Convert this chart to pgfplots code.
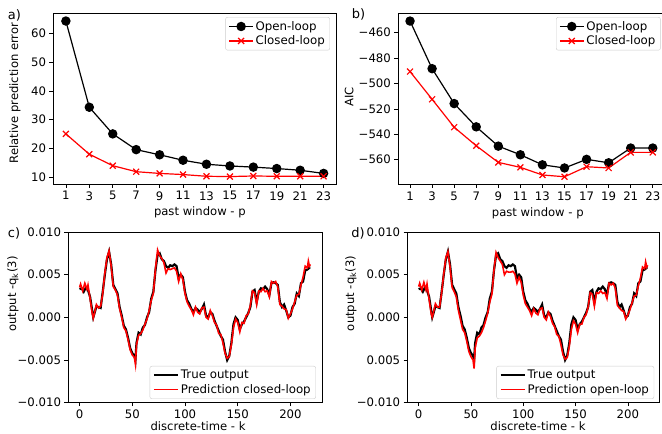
\documentclass[border=0pt]{standalone}
\usepackage{pgfplots}
\pgfplotsset{compat=1.18}
\usepackage{pgfplotstable}
\usepackage{fontspec}
\setmainfont{DejaVu Sans}
\newcommand{\fs}{\fontsize{11.7}{14}\selectfont}
\newcommand{\fl}{\fontsize{11.6}{14}\selectfont}
\newcommand{\fg}{\fontsize{11.8}{14}\selectfont}

\pgfplotstableread{
k y
0 0.0033
2 0.0034
4 0.0030
6 0.0035
8 0.0032
10 0.0024
12 0.0008
13 0.0000
14 0.0004
16 0.0013
18 0.0012
20 0.0011
22 0.0030
24 0.0050
26 0.0068
28 0.0077
30 0.0062
32 0.0038
34 0.0033
36 0.0028
38 0.0012
40 0.0002
42 -0.0010
44 -0.0014
46 -0.0024
48 -0.0036
50 -0.0042
52 -0.0045
53 -0.0050
54 -0.0030
56 -0.0018
58 -0.0020
60 -0.0012
62 -0.0009
64 0.0000
66 0.0006
68 0.0022
70 0.0030
72 0.0055
74 0.0073
76 0.0075
78 0.0068
80 0.0066
82 0.0060
84 0.0058
86 0.0061
88 0.0060
90 0.0062
92 0.0060
94 0.0046
96 0.0050
98 0.0047
100 0.0030
102 0.0020
104 0.0016
106 0.0010
108 0.0006
110 0.0011
112 0.0009
114 0.0006
116 0.0010
118 0.0015
120 0.0002
122 0.0000
124 0.0006
126 0.0004
128 -0.0004
130 -0.0010
132 -0.0016
134 -0.0022
136 -0.0026
138 -0.0040
140 -0.0050
142 -0.0045
144 -0.0030
146 -0.0008
148 0.0000
150 -0.0003
152 -0.0014
154 -0.0008
156 -0.0005
158 0.0000
160 0.0005
162 0.0012
164 0.0030
166 0.0032
168 0.0018
170 0.0030
172 0.0034
174 0.0033
176 0.0036
178 0.0033
180 0.0026
182 0.0040
184 0.0041
186 0.0040
188 0.0038
190 0.0018
192 0.0012
194 0.0015
196 0.0008
198 0.0000
200 0.0002
202 0.0012
204 0.0016
206 0.0028
208 0.0025
210 0.0040
212 0.0042
214 0.0055
216 0.0056
218 0.0058
219 0.0058
}\truedata

\pgfplotstableread{
k y
0 0.0035
1 0.0039
3 0.0031
5 0.0040
7 0.0033
8 0.0038
10 0.0022
12 0.0005
13 -0.0001
14 0.0004
16 0.0015
18 0.0011
20 0.0013
22 0.0028
24 0.0052
26 0.0070
28 0.0078
30 0.0060
32 0.0036
34 0.0032
36 0.0026
38 0.0010
40 0.0000
42 -0.0012
44 -0.0016
46 -0.0026
48 -0.0038
50 -0.0044
52 -0.0047
53 -0.0055
54 -0.0032
56 -0.0021
58 -0.0019
60 -0.0015
62 -0.0008
64 -0.0002
66 0.0008
68 0.0020
70 0.0028
72 0.0057
74 0.0079
76 0.0072
78 0.0069
80 0.0064
82 0.0052
84 0.0057
86 0.0056
88 0.0057
90 0.0058
92 0.0054
94 0.0042
96 0.0051
98 0.0044
100 0.0028
102 0.0018
104 0.0013
106 0.0009
108 0.0003
110 0.0012
112 0.0006
114 0.0004
116 0.0011
118 0.0012
120 0.0000
122 -0.0002
124 0.0008
126 0.0002
128 -0.0006
130 -0.0009
132 -0.0019
134 -0.0020
136 -0.0030
138 -0.0042
140 -0.0048
142 -0.0046
144 -0.0032
146 -0.0012
148 -0.0002
150 -0.0006
152 -0.0017
154 -0.0006
156 -0.0007
158 0.0002
160 0.0004
162 0.0014
164 0.0031
166 0.0029
168 0.0015
170 0.0031
172 0.0030
174 0.0034
176 0.0030
178 0.0031
180 0.0024
182 0.0042
184 0.0040
186 0.0042
188 0.0036
190 0.0015
192 0.0013
194 0.0010
196 0.0009
198 -0.0001
200 0.0004
202 0.0010
204 0.0018
206 0.0026
208 0.0027
210 0.0038
212 0.0047
214 0.0060
216 0.0058
217 0.0066
218 0.0060
219 0.0062
}\closeddata

\pgfplotstableread{
k y
0 0.0036
1 0.0040
3 0.0032
5 0.0041
7 0.0032
8 0.0039
10 0.0021
12 0.0004
13 0.0000
14 0.0005
16 0.0016
18 0.0012
20 0.0012
22 0.0029
24 0.0051
26 0.0070
28 0.0077
30 0.0059
32 0.0035
34 0.0030
36 0.0024
38 0.0008
40 -0.0003
42 -0.0014
44 -0.0018
46 -0.0028
48 -0.0040
50 -0.0046
52 -0.0050
53 -0.0060
54 -0.0036
56 -0.0024
58 -0.0022
60 -0.0018
62 -0.0012
64 -0.0004
66 0.0005
68 0.0018
70 0.0027
72 0.0055
74 0.0076
76 0.0070
78 0.0066
80 0.0062
82 0.0050
84 0.0054
86 0.0053
88 0.0053
90 0.0054
92 0.0051
94 0.0040
96 0.0047
98 0.0041
100 0.0026
102 0.0016
104 0.0012
106 0.0008
108 0.0002
110 0.0010
112 0.0005
114 0.0003
116 0.0010
118 0.0011
120 0.0000
122 -0.0003
124 0.0006
126 0.0001
128 -0.0007
130 -0.0011
132 -0.0020
134 -0.0022
136 -0.0032
138 -0.0044
140 -0.0049
142 -0.0047
144 -0.0034
146 -0.0014
148 -0.0004
150 -0.0008
152 -0.0018
154 -0.0008
156 -0.0008
158 0.0000
160 0.0003
162 0.0012
164 0.0029
166 0.0027
168 0.0013
170 0.0029
172 0.0028
174 0.0031
176 0.0028
178 0.0029
180 0.0022
182 0.0040
184 0.0038
186 0.0040
188 0.0034
190 0.0014
192 0.0011
194 0.0008
196 0.0007
198 -0.0002
200 0.0003
202 0.0009
204 0.0017
206 0.0025
208 0.0026
210 0.0037
212 0.0046
214 0.0059
216 0.0057
217 0.0065
218 0.0059
219 0.0061
}\opendata

\pgfplotsset{
  mystyle/.style={
    scale only axis,
    axis line style={line width=0.6pt},
    tick pos=left, tick align=outside, major tick length=3.5pt,
    every tick/.style={black, line width=0.6pt},
    tick label style={font=\fs},
    label style={font=\fl, inner sep=0pt},
    scaled ticks=false,
    /pgf/number format/assume math mode=true,
    legend style={font=\fg, draw=black!20, rounded corners=2pt, fill=white,
      inner xsep=3pt, inner ysep=2pt},
    legend cell align=left,
    legend image code/.code={\draw[mark repeat=2,mark phase=2,##1] plot coordinates {(0cm,0cm) (0.42cm,0cm) (0.84cm,0cm)};},
  },
}

\begin{document}
\begin{tikzpicture}
\path[use as bounding box] (0,0) rectangle (662pt,434pt);

% a)
\begin{axis}[mystyle, at={(53pt,249.7pt)}, anchor=south west,
  width=283.5pt, height=171pt,
  xmin=-0.1, xmax=24.1, ymin=7.4, ymax=67.1,
  xtick={1,3,...,23}, ytick={10,20,...,60},
  xlabel={past window - p}, ylabel={Relative prediction error},
  xlabel style={at={(rel axis cs:0.518,0)}, anchor=north, yshift=-22.5pt},
  ylabel style={at={(rel axis cs:-0.134,0.534)}, anchor=center},
  legend style={at={(rel axis cs:0.977,0.978)}, anchor=north east},
]
\addplot[black, line width=1.2pt, mark=*, mark size=4.1pt] coordinates {
(1,64.4) (3,34.3) (5,25.0) (7,19.5) (9,17.7) (11,15.8) (13,14.4) (15,13.8) (17,13.4) (19,12.9) (21,12.3) (23,11.2)};
\addlegendentry{Open-loop}
\addplot[red, line width=1.2pt, mark=x, mark size=4.2pt] coordinates {
(1,25.0) (3,17.9) (5,13.9) (7,11.8) (9,11.2) (11,10.8) (13,10.2) (15,10.1) (17,10.3) (19,10.2) (21,10.2) (23,10.2)};
\addlegendentry{Closed-loop}
\end{axis}

% b)
\begin{axis}[mystyle, at={(397.9pt,249.5pt)}, anchor=south west,
  width=267pt, height=171.2pt,
  xmin=-0.1, xmax=24.1, ymin=-579.5, ymax=-444.7,
  xtick={1,3,...,23}, ytick={-560,-540,...,-460},
  yticklabels={−560,−540,−520,−500,−480,−460},
  xlabel={past window - p}, ylabel={AIC},
  xlabel style={at={(rel axis cs:0.524,0)}, anchor=north, yshift=-22.5pt},
  ylabel style={at={(rel axis cs:-0.183,0.513)}, anchor=center},
  legend style={at={(rel axis cs:0.984,0.978)}, anchor=north east},
]
\addplot[black, line width=1.2pt, mark=*, mark size=4.1pt] coordinates {
(1,-450.8) (3,-488.3) (5,-515.8) (7,-534.1) (9,-549.3) (11,-556.1) (13,-564.0) (15,-566.5) (17,-559.7) (19,-562.4) (21,-550.8) (23,-550.8)};
\addlegendentry{Open-loop}
\addplot[red, line width=1.2pt, mark=x, mark size=4.2pt] coordinates {
(1,-490.6) (3,-512.4) (5,-534.4) (7,-549.0) (9,-562.1) (11,-566.0) (13,-572.0) (15,-573.4) (17,-565.5) (19,-566.5) (21,-554.2) (23,-554.2)};
\addlegendentry{Closed-loop}
\end{axis}

% c)
\begin{axis}[mystyle, at={(68pt,31.3pt)}, anchor=south west,
  width=254pt, height=170.7pt,
  xmin=-10.95, xmax=229.95, ymin=-0.010, ymax=0.010,
  xtick={0,50,...,200}, ytick={-0.01,-0.005,0,0.005,0.01},
  yticklabels={−0.010,−0.005,0.000,0.005,0.010},
  xlabel={discrete-time - k}, ylabel={output -q\textsubscript{k}(3)},
  xlabel style={at={(rel axis cs:0.512,0)}, anchor=north, yshift=-18.5pt},
  ylabel style={at={(rel axis cs:-0.2165,0.637)}, anchor=center},
  legend style={at={(rel axis cs:0.976,0.022)}, anchor=south east},
]
\addplot[black, line width=2.2pt] table[x=k,y=y] {\truedata};
\addlegendentry{True output}
\addplot[red, line width=1.6pt] table[x=k,y=y] {\closeddata};
\addlegendentry{Prediction closed-loop}
\end{axis}

% d)
\begin{axis}[mystyle, at={(407.2pt,31.3pt)}, anchor=south west,
  width=252pt, height=170.7pt,
  xmin=-10.95, xmax=229.95, ymin=-0.010, ymax=0.010,
  xtick={0,50,...,200}, ytick={-0.01,-0.005,0,0.005,0.01},
  yticklabels={−0.010,0.005,0.000,0.005,0.010},
  xlabel={discrete-time - k}, ylabel={output -q\textsubscript{k}(3)},
  xlabel style={at={(rel axis cs:0.519,0)}, anchor=north, yshift=-18.5pt},
  ylabel style={at={(rel axis cs:-0.223,0.64)}, anchor=center},
  legend style={at={(rel axis cs:0.98,0.022)}, anchor=south east},
]
\addplot[black, line width=2.2pt] table[x=k,y=y] {\truedata};
\addlegendentry{True output}
\addplot[red, line width=1.6pt] table[x=k,y=y] {\opendata};
\addlegendentry{Prediction open-loop}
\end{axis}

\node[font=\fontsize{13}{16}\selectfont] at (14.5pt,419pt) {a)};
\node[font=\fontsize{13}{16}\selectfont] at (358.5pt,419.5pt) {b)};
\node[font=\fontsize{13}{16}\selectfont] at (14pt,200.5pt) {c)};
\node[font=\fontsize{13}{16}\selectfont] at (358pt,200.5pt) {d)};
\end{tikzpicture}
\end{document}
